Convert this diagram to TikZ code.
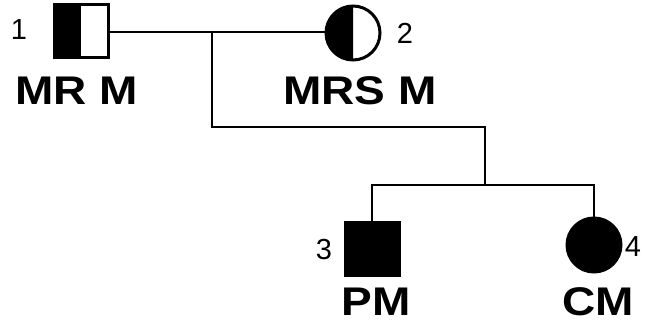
\documentclass[tikz,border=0pt]{standalone}
\usepackage{fontspec}
\setmainfont{Liberation Sans}
\newfontfamily\lblfont{Liberation Sans}[FakeStretch=1.15]
\begin{document}
\begin{tikzpicture}[x=1pt,y=-1pt,
  conn/.style={line width=2pt},
  sym/.style={line width=3pt},
  namelbl/.style={font=\lblfont\fontsize{40}{40}\selectfont\bfseries, inner sep=0pt},
  numlbl/.style={font=\fontsize{29}{29}\selectfont, inner sep=0pt}]
\useasboundingbox (0,0) rectangle (652,324);
% coordinates of symbols
\coordinate (s1) at (81,30.5);
\coordinate (c2) at (353,33);
\coordinate (s3) at (372,248.5);
\coordinate (c4) at (594,245);
% individual 1 (male, half affected)
\fill (54,4) rectangle (81,57);
\draw[sym] (54,4) rectangle (108,57);
\node[minimum size=53pt, inner sep=0pt] (p1) at (s1) {};
% individual 2 (female, half affected)
\begin{scope}
\clip (320,0) rectangle (353,70);
\fill (c2) circle[radius=27];
\end{scope}
\draw[sym] (c2) circle[radius=27];
\node[circle, minimum size=54pt, inner sep=0pt] (p2) at (c2) {};
% individual 3 (male, affected)
\fill[draw, sym] (345,222) rectangle (399,275);
\node[minimum size=53pt, inner sep=0pt] (p3) at (s3) {};
% individual 4 (female, affected)
\fill[draw, sym] (c4) circle[radius=27];
\node[circle, minimum size=54pt, inner sep=0pt] (p4) at (c4) {};
% connectors
\coordinate (m) at (212,32);
\coordinate (a) at (212,127);
\coordinate (b) at (485,127);
\coordinate (c) at (485,185);
\coordinate (l) at (372,185);
\coordinate (r) at (594,185);
\draw[conn] (p1.east |- m) -- (p2.west |- m);
\draw[conn] (m) -- (a) -- (b) -- (c);
\draw[conn] (p3.north) -- (l) -- (r) -- (p4.north);
% labels
\node[numlbl] (n1) at (19,30) {1};
\node[numlbl] (n2) at (405,33) {2};
\node[numlbl] (n3) at (324,250) {3};
\node[numlbl] (n4) at (633,247) {4};
\node[namelbl] (t1) at (77,91) {MR M};
\node[namelbl] (t2) at (360,91) {MRS M};
\node[namelbl] (t3) at (376,302) {PM};
\node[namelbl] (t4) at (598,302) {CM};
\end{tikzpicture}
\end{document}
